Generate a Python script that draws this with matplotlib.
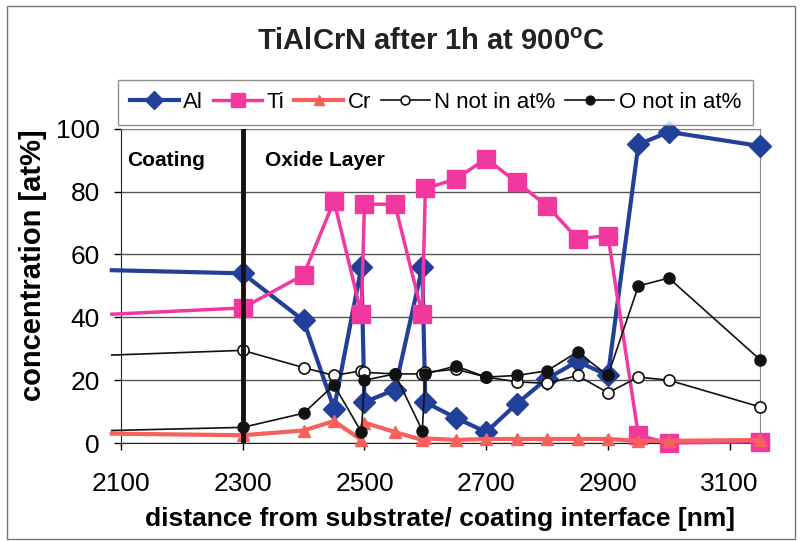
import matplotlib
matplotlib.use("Agg")
import matplotlib.pyplot as plt
from matplotlib.patches import Rectangle

plt.rcParams["font.family"] = ["Liberation Sans", "DejaVu Sans"]
plt.rcParams["mathtext.fontset"] = "custom"
plt.rcParams["mathtext.rm"] = "Liberation Sans:bold"

# depth positions [nm] (first point sits just left of the axis, unmarked)
depth = [2085, 2300, 2400, 2450, 2495, 2500, 2550, 2595, 2600, 2650,
         2700, 2750, 2800, 2850, 2900, 2950, 3000, 3150]
al = [55, 54, 39, 11, 56, 13, 17, 56, 13, 8, 3.5, 12.5, 20.5, 26, 21.5, 95, 99, 94.5]
ti = [41, 43, 53.5, 77, 41, 76, 76, 41, 81, 84, 90.5, 83, 75.5, 65, 66, 2.5, 0, 0.5]
cr = [3, 2.5, 4, 7, 1, 6.5, 3.5, 1, 1.5, 1, 1.3, 1.3, 1.3, 1.3, 1.3, 0.7, 0.7, 1]
n_conc = [28, 29.5, 24, 21.5, 23, 22.5, 22, 22, 22.5, 23.5, 21, 19.5, 19, 21.5, 16, 21, 20, 11.5]
o_conc = [4, 5, 9.5, 18.5, 3.5, 20, 22, 4, 22, 24.5, 21, 21.5, 23, 29, 21.5, 50, 52.5, 26.5]

x_ticks = [2100, 2300, 2500, 2700, 2900, 3100]
y_ticks = [0, 20, 40, 60, 80, 100]
boundary = 2300

fig = plt.figure(figsize=(8.01, 5.41), dpi=100)
ax = fig.add_axes([0.151, 0.181, 0.798, 0.581])

marks = range(1, len(depth))
ax.plot(depth, al, color="#22409A", lw=3, marker="D", ms=11, markevery=marks,
        label="Al", clip_on=False, zorder=3)
ax.plot(depth, ti, color="#F2389F", lw=2.5, marker="s", ms=12.5, markevery=marks,
        label="Ti", clip_on=False, zorder=4)
ax.plot(depth, cr, color="#F7605C", lw=3, marker="^", ms=9, markevery=marks,
        label="Cr", clip_on=False, zorder=5)
ax.plot(depth, n_conc, color="#111111", lw=1.2, marker="o", ms=8, mfc="white",
        mew=1.2, markevery=marks, label="N not in at%", clip_on=False, zorder=6)
ax.plot(depth, o_conc, color="#111111", lw=1.2, marker="o", ms=8, markevery=marks,
        label="O not in at%", clip_on=False, zorder=7)

ax.axvline(boundary, color="#1a1010", lw=3.5, zorder=8)

ax.text(2110, 90, "Coating", fontsize=15, fontweight="bold", va="center")
ax.text(2336, 90, "Oxide Layer", fontsize=15, fontweight="bold", va="center")

ax.set_xlim(2100, 3150)
ax.set_ylim(0, 100)
ax.set_xticks(x_ticks)
ax.set_yticks(y_ticks)
ax.tick_params(labelsize=19, direction="out", length=5, width=1)
ax.tick_params(axis="x", pad=16)
ax.tick_params(axis="y", pad=10)
ax.yaxis.grid(True, color="#555555", lw=1)
ax.set_axisbelow(True)
for side in ("left", "bottom"):
    ax.spines[side].set_color("#222222")
for side in ("top", "right"):
    ax.spines[side].set_color("#888888")

ax.set_ylabel("concentration [at%]", fontsize=21, fontweight="bold")
ax.yaxis.set_label_coords(-0.115, 0.567)
ax.set_xlabel("distance from substrate/ coating interface [nm]", fontsize=19,
              fontweight="bold")
ax.xaxis.set_label_coords(0.499, -0.203)

fig.text(0.538, 0.922, "TiAlCrN after 1h at 900$^\\mathrm{o}$C", fontsize=21,
         fontweight="bold", ha="center", va="center", color="#222222")

leg = fig.legend(loc="center", bbox_to_anchor=(0.5437, 0.8105), ncol=5,
                 fontsize=16, frameon=True, fancybox=False, edgecolor="#777777",
                 handlelength=2.2, handletextpad=0.2, columnspacing=0.45,
                 borderpad=0.55, markerscale=0.8)
leg.get_frame().set_linewidth(1)

fig.patches.append(Rectangle((0.0087, 0.004), 0.984, 0.985, transform=fig.transFigure,
                             fill=False, edgecolor="#777777", lw=1))

fig.savefig("out.png", dpi=100)
